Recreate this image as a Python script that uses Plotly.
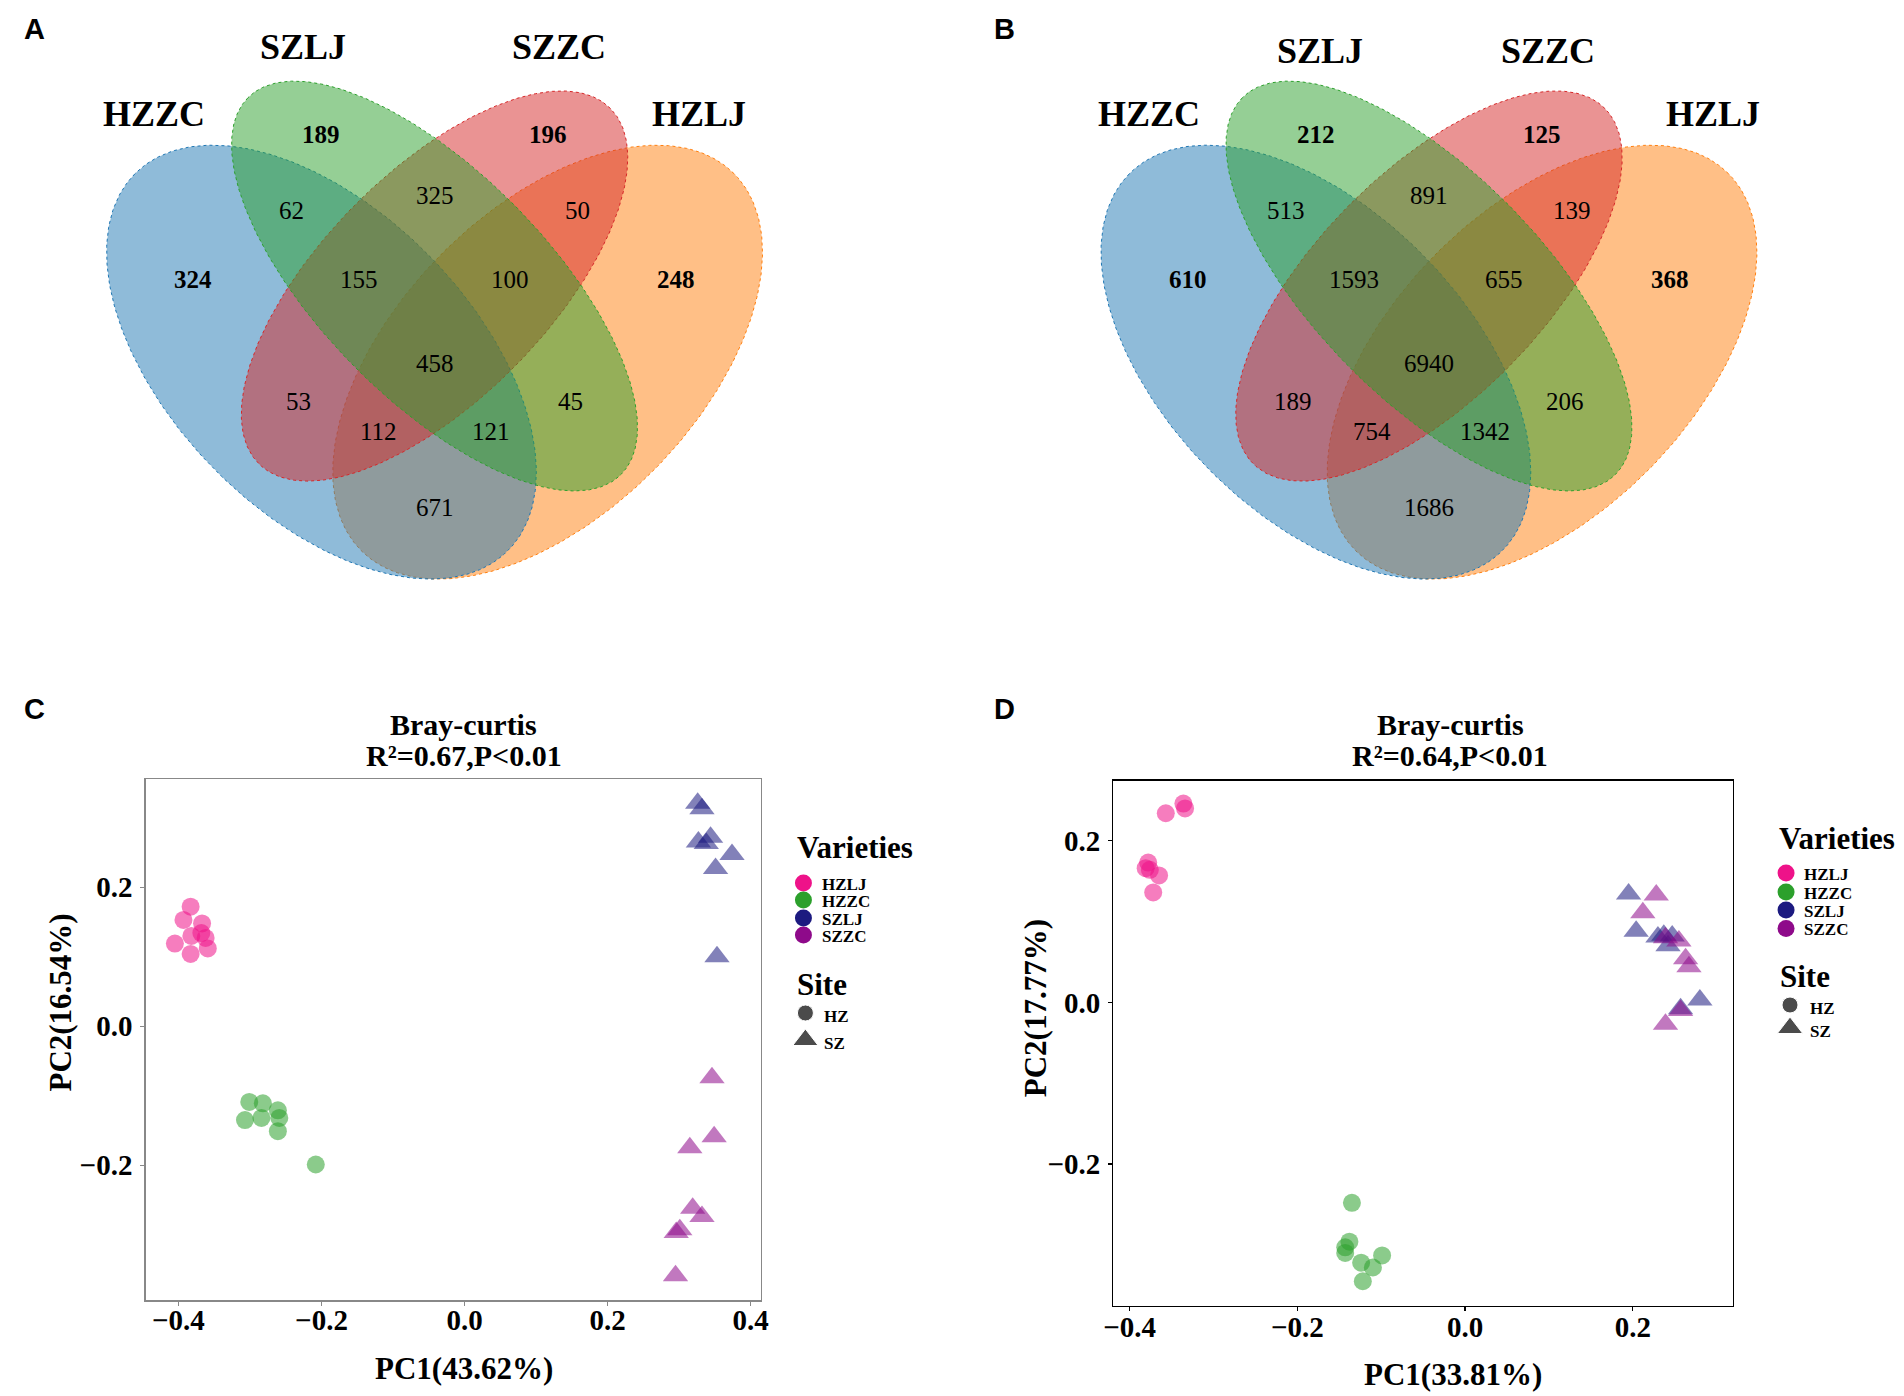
import numpy as np
import plotly.graph_objects as go

W, H = 1904, 1396

# ---------------- Venn data ----------------
set_names = ["HZZC", "SZLJ", "SZZC", "HZLJ"]
region_keys = ["HZZC", "SZLJ", "SZZC", "HZLJ",
               "HZZC&SZLJ", "SZLJ&SZZC", "SZZC&HZLJ",
               "HZZC&SZLJ&SZZC", "SZLJ&SZZC&HZLJ", "ALL",
               "HZZC&SZZC", "SZLJ&HZLJ",
               "HZZC&SZZC&HZLJ", "HZZC&SZLJ&HZLJ", "HZZC&HZLJ"]
counts_A = [324, 189, 196, 248, 62, 325, 50, 155, 100, 458, 53, 45, 112, 121, 671]
counts_B = [610, 212, 125, 368, 513, 891, 139, 1593, 655, 6940, 189, 206, 754, 1342, 1686]

# ---------------- PCoA data ----------------
c_HZLJ_x = [-0.383, -0.393, -0.367, -0.382, -0.368, -0.362, -0.405, -0.359, -0.383]
c_HZLJ_y = [0.172, 0.153, 0.148, 0.130, 0.134, 0.127, 0.119, 0.112, 0.104]
c_HZZC_x = [-0.301, -0.282, -0.261, -0.307, -0.284, -0.259, -0.261, -0.208]
c_HZZC_y = [-0.109, -0.111, -0.121, -0.135, -0.132, -0.132, -0.151, -0.199]
c_SZLJ_x = [0.326, 0.332, 0.344, 0.327, 0.338, 0.374, 0.351, 0.353]
c_SZLJ_y = [0.321, 0.313, 0.272, 0.265, 0.263, 0.247, 0.227, 0.100]
c_SZZC_x = [0.346, 0.349, 0.315, 0.319, 0.332, 0.301, 0.296, 0.295]
c_SZZC_y = [-0.074, -0.159, -0.175, -0.262, -0.274, -0.293, -0.297, -0.359]

d_HZLJ_x = [-0.336, -0.334, -0.357, -0.378, -0.381, -0.376, -0.365, -0.372]
d_HZLJ_y = [0.246, 0.240, 0.234, 0.173, 0.166, 0.164, 0.157, 0.136]
d_HZZC_x = [-0.135, -0.138, -0.143, -0.143, -0.099, -0.124, -0.110, -0.122]
d_HZZC_y = [-0.248, -0.296, -0.303, -0.310, -0.313, -0.322, -0.328, -0.345]
d_SZLJ_x = [0.195, 0.204, 0.230, 0.247, 0.242, 0.280, 0.257, 0.237]
d_SZLJ_y = [0.134, 0.088, 0.081, 0.082, 0.070, 0.003, -0.008, 0.083]
d_SZZC_x = [0.228, 0.212, 0.239, 0.255, 0.263, 0.267, 0.257, 0.239]
d_SZZC_y = [0.133, 0.111, 0.080, 0.076, 0.054, 0.044, -0.010, -0.027]

varieties = ["HZLJ", "HZZC", "SZLJ", "SZZC"]
sites = ["HZ", "SZ"]
c_title = ["Bray-curtis", "R²=0.67,P&lt;0.01"]
d_title = ["Bray-curtis", "R²=0.64,P&lt;0.01"]
c_xlab, c_ylab = "PC1(43.62%)", "PC2(16.54%)"
d_xlab, d_ylab = "PC1(33.81%)", "PC2(17.77%)"
c_ticks_x = [-0.4, -0.2, 0.0, 0.2, 0.4]
d_ticks_x = [-0.4, -0.2, 0.0, 0.2]
ticks_y = [-0.2, 0.0, 0.2]

# ---------------- styles / layout constants ----------------
SERIF = "Liberation Serif"
SANS = "Liberation Sans"
venn_fill = {"HZZC": "rgba(31,119,180,0.5)", "SZLJ": "rgba(44,160,44,0.5)",
             "SZZC": "rgba(214,39,40,0.5)", "HZLJ": "rgba(255,127,14,0.5)"}
venn_line = {"HZZC": "rgb(31,119,180)", "SZLJ": "rgb(44,160,44)",
             "SZZC": "rgb(214,39,40)", "HZLJ": "rgb(255,127,14)"}
# ellipse geometry (unit square, y up): cx, cy, a, b, rotation
ellipse_geom = {"HZZC": (0.35, 0.47, 0.35, 0.20, 135), "HZLJ": (0.65, 0.47, 0.35, 0.20, 45),
                "SZLJ": (0.50, 0.57, 0.35, 0.15, 135), "SZZC": (0.50, 0.57, 0.33, 0.15, 45)}
draw_order = ["HZLJ", "HZZC", "SZZC", "SZLJ"]
region_pos = [(0.18, 0.58), (0.35, 0.77), (0.65, 0.77), (0.82, 0.58),
              (0.31, 0.67), (0.50, 0.69), (0.69, 0.67),
              (0.40, 0.58), (0.60, 0.58), (0.50, 0.47),
              (0.32, 0.42), (0.68, 0.42),
              (0.425, 0.38), (0.575, 0.38), (0.50, 0.28)]
VS, VY0 = 761.0, 719.8
panelA_x0, panelB_x0 = 48.1, 1052.0
catlab_A = {"HZZC": (145, 113), "SZLJ": (296, 46), "SZZC": (554, 46), "HZLJ": (696, 113)}
catlab_B = {"HZZC": (1150, 113), "SZLJ": (1322, 50), "SZZC": (1553, 50), "HZLJ": (1719, 113)}

var_color = {"HZLJ": "#EE1289", "HZZC": "#2CA02C", "SZLJ": "#1C1A80", "SZZC": "#8E0A8A"}
var_symbol = {"HZLJ": "circle", "HZZC": "circle", "SZLJ": "triangle-up", "SZZC": "triangle-up"}

fig = go.Figure()

# ---------------- Venn diagrams (overlay pixel axis) ----------------
t = np.linspace(0, 2 * np.pi, 361)


def ellipse_xy(x0, name):
    cx, cy, a, b, rot = ellipse_geom[name]
    r = np.deg2rad(rot)
    ex = cx + a * np.cos(t) * np.cos(r) - b * np.sin(t) * np.sin(r)
    ey = cy + a * np.cos(t) * np.sin(r) + b * np.sin(t) * np.cos(r)
    return x0 + VS * ex, VY0 - VS * ey


annotations = []


def ann(x, y, text, size, family=SERIF, bold=True, angle=0, xanchor="center"):
    annotations.append(dict(x=x, y=y, xref="x", yref="y", text=text, showarrow=False,
                            xanchor=xanchor, yanchor="middle", textangle=angle,
                            font=dict(family=family, size=size, color="black",
                                      weight="bold" if bold else "normal")))


for x0, counts, catlab in [(panelA_x0, counts_A, catlab_A), (panelB_x0, counts_B, catlab_B)]:
    for name in draw_order:
        px, py = ellipse_xy(x0, name)
        fig.add_trace(go.Scatter(x=px, y=py, mode="lines", fill="toself",
                                 fillcolor=venn_fill[name],
                                 line=dict(color=venn_line[name], width=1, dash="dot"),
                                 hoverinfo="skip", showlegend=False, xaxis="x", yaxis="y"))
    for i, (cnt, (u, v)) in enumerate(zip(counts, region_pos)):
        ann(x0 + VS * u, VY0 - VS * v + 1, str(cnt), 25, bold=(i < 4))
    for name in set_names:
        cx, cy = catlab[name]
        ann(cx, cy + 1, name, 36)

# panel letters
for letter, (lx, ly) in zip("ABCD", [(25, 28), (1004, 28), (25, 708), (1004, 708)]):
    ann(lx, ly + 1, letter, 29, family=SANS)

# ---------------- PCoA scatter ----------------
c_data = {"HZLJ": (c_HZLJ_x, c_HZLJ_y), "HZZC": (c_HZZC_x, c_HZZC_y),
          "SZLJ": (c_SZLJ_x, c_SZLJ_y), "SZZC": (c_SZZC_x, c_SZZC_y)}
d_data = {"HZLJ": (d_HZLJ_x, d_HZLJ_y), "HZZC": (d_HZZC_x, d_HZZC_y),
          "SZLJ": (d_SZLJ_x, d_SZLJ_y), "SZZC": (d_SZZC_x, d_SZZC_y)}

for data, xa, ya in [(c_data, "x2", "y2"), (d_data, "x3", "y3")]:
    for v in varieties:
        xs, ys = data[v]
        tri = var_symbol[v] == "triangle-up"
        fig.add_trace(go.Scatter(x=xs, y=ys, mode="markers", name=v,
                                 marker=dict(color=var_color[v], symbol=var_symbol[v],
                                             size=22 if tri else 18, opacity=0.55,
                                             line=dict(width=0)),
                                 hoverinfo="skip", showlegend=False, xaxis=xa, yaxis=ya))

# titles / axis labels
for (tl, xl, yl, tx, xlx, xly, ylx, yly) in [
        (c_title, c_xlab, c_ylab, 458, 458, 1368, 50, 1003),
        (d_title, d_xlab, d_ylab, 1454, 1457, 1374, 1035, 1008)]:
    ann(tx, 724, tl[0], 30)
    ann(tx, 755.5, tl[1], 30)
    ann(xlx, xly, xl, 31)
    ann(ylx, yly, yl, 31, angle=-90)

# ---------------- manual legends ----------------
legend_cfg = [
    dict(tx=792, ty=847, mx=801, my=[883, 900, 918, 935], ix=818,
         sx=792, sy=984, hx=803, hy=[1013, 1040], hix=820, msize=17),
    dict(tx=1784, ty=838, mx=1793, my=[873, 892, 910, 928.5], ix=1809,
         sx=1785, sy=976, hx=1797, hy=[1005, 1028], hix=1815, msize=17),
]
for cfg in legend_cfg:
    ann(cfg["tx"], cfg["ty"], "Varieties", 31, xanchor="left")
    fig.add_trace(go.Scatter(x=[cfg["mx"]] * 4, y=cfg["my"], mode="markers",
                             marker=dict(color=[var_color[v] for v in varieties],
                                         size=cfg["msize"], symbol="circle"),
                             hoverinfo="skip", showlegend=False, xaxis="x", yaxis="y",
                             cliponaxis=False))
    for v, yy in zip(varieties, cfg["my"]):
        ann(cfg["ix"], yy + 1, v, 17, xanchor="left")
    ann(cfg["sx"], cfg["sy"], "Site", 31, xanchor="left")
    fig.add_trace(go.Scatter(x=[cfg["hx"]] * 2, y=cfg["hy"], mode="markers",
                             marker=dict(color="black", size=[16, 22],
                                         symbol=["circle", "triangle-up"]),
                             hoverinfo="skip", showlegend=False, xaxis="x", yaxis="y",
                             cliponaxis=False))
    for s, yy in zip(sites, cfg["hy"]):
        ann(cfg["hix"], yy + 3, s, 17, xanchor="left")


def dom_x(a, b):
    return [a / W, b / W]


def dom_y(top, bottom):
    return [1 - bottom / H, 1 - top / H]


tickfont = dict(family=SERIF, size=29, color="black", weight="bold")


def sc_axis(rng, vals, dom, color, anchor, standoff):
    return dict(domain=dom, range=rng, tickvals=vals, tickformat=".1f", ticks="outside",
                ticklen=4, tickwidth=1.2, tickcolor=color, showline=True, mirror=True,
                linecolor=color, linewidth=1.5, showgrid=False, zeroline=False,
                tickfont=tickfont, anchor=anchor, fixedrange=True,
                ticklabelstandoff=standoff)


fig.update_layout(
    width=W, height=H, margin=dict(l=0, r=0, t=0, b=0),
    paper_bgcolor="white", plot_bgcolor="rgba(0,0,0,0)",
    showlegend=False, hovermode=False,
    xaxis=dict(domain=[0, 1], range=[0, W], visible=False, fixedrange=True),
    yaxis=dict(domain=[0, 1], range=[H, 0], visible=False, fixedrange=True),
    xaxis2=sc_axis([-0.4458, 0.4143], c_ticks_x, dom_x(137, 758), "#888888", "y2", -10),
    yaxis2=sc_axis([-0.394, 0.3558], ticks_y, dom_y(779, 1300), "#888888", "x2", 2),
    xaxis3=sc_axis([-0.4194, 0.319], d_ticks_x, dom_x(1114, 1739), "black", "y3", -9),
    yaxis3=sc_axis([-0.375, 0.2745], ticks_y, dom_y(780.5, 1305.5), "black", "x3", 2),
    annotations=annotations,
)

fig.write_html("out.html", config={"displayModeBar": False, "staticPlot": True},
               post_script="document.body.style.margin='0';document.body.style.overflow='hidden';")
